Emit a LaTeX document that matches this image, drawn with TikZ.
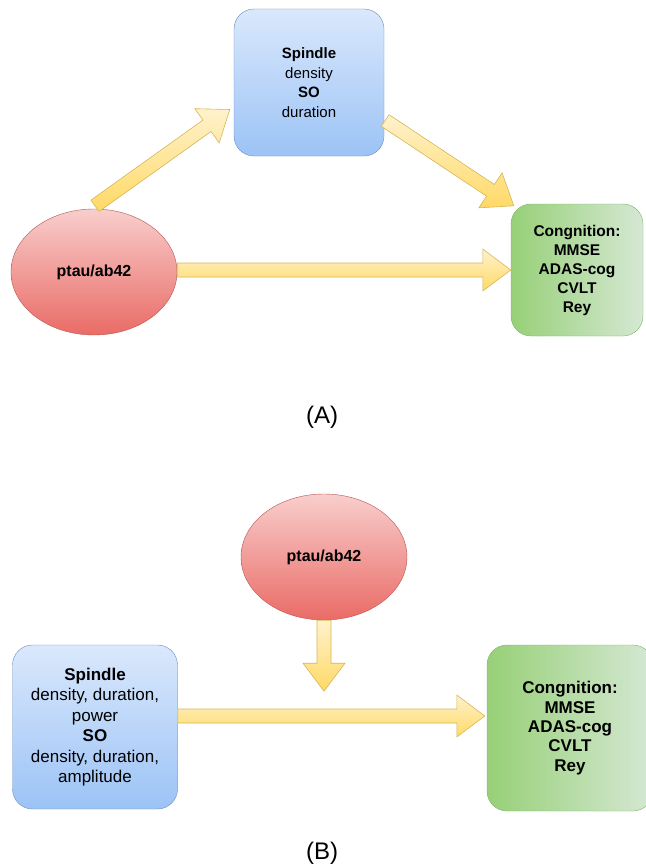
\documentclass[tikz,border=0pt]{standalone}
\usepackage{fontspec}
\setmainfont{Liberation Sans}
\usepackage{xcolor}
\usepackage{tikz}
\usetikzlibrary{calc,shapes.geometric}
\definecolor{bluetop}{HTML}{DAE8FC}
\definecolor{bluebot}{HTML}{9CC3F6}
\definecolor{bluedraw}{HTML}{6C8EBF}
\definecolor{redtop}{HTML}{F8CECC}
\definecolor{redbot}{HTML}{EA6B66}
\definecolor{reddraw}{HTML}{B85450}
\definecolor{greenleft}{HTML}{97D077}
\definecolor{greenright}{HTML}{D5E8D4}
\definecolor{greendraw}{HTML}{82B366}
\definecolor{yeltop}{HTML}{FFF2CC}
\definecolor{yelbot}{HTML}{FFD966}
\definecolor{yeldraw}{HTML}{D6B656}
% flat block arrow from #1 to #2
\newcommand{\yarrow}[2]{%
  \coordinate (hb) at ($(#2)!28pt!(#1)$);
  \path[yarrow] ($(#1)!7pt!90:(#2)$) -- ($(hb)!7pt!90:(#2)$) -- ($(hb)!21pt!90:(#2)$) -- (#2)
    -- ($(hb)!21pt!-90:(#2)$) -- ($(hb)!7pt!-90:(#2)$) -- ($(#1)!7pt!-90:(#2)$) -- cycle;}

\begin{document}
\begin{tikzpicture}[x=1pt,y=-1pt,
  spindlebox/.style={draw=bluedraw,rounded corners=20pt,top color=bluetop,bottom color=bluebot,align=center,inner sep=0pt},
  cogbox/.style={draw=greendraw,rounded corners=20pt,left color=greenleft,right color=greenright,align=center,inner sep=0pt,font=\bfseries},
  ptau/.style={ellipse,draw=reddraw,top color=redtop,bottom color=redbot,minimum width=166pt,minimum height=126pt,inner sep=0pt,font=\fontsize{16}{19}\selectfont\bfseries},
  yarrow/.style={draw=yeldraw,line width=0.6pt,top color=yeltop,bottom color=yelbot},
  caption/.style={font=\fontsize{24}{28}\selectfont}]
  \useasboundingbox (0,0) rectangle (645,867);
  % (A)
  \node[spindlebox,minimum width=150pt,minimum height=147pt,font=\fontsize{15}{19.6}\selectfont] (spA) at (309,82.5)
    {\textbf{Spindle}\\density\\\textbf{SO}\\duration};
  \node[ptau] (ptA) at (94,272) {ptau/ab42};
  \node[cogbox,minimum width=132pt,minimum height=132pt,font=\fontsize{15.5}{19}\selectfont\bfseries] (coA) at (577,270)
    {Congnition:\\MMSE\\ADAS-cog\\CVLT\\Rey};
  \yarrow{$(ptA.north)+(1,-3)$}{$(spA.west)+(-4,27)$}
  \yarrow{$(spA.east)+(1,38)$}{$(coA.north west)+(3,2)$}
  \yarrow{$(ptA.east)+(0,-2)$}{coA.west}
  \node[caption] (capA) at (322,417) {(A)};
  % (B)
  \node[ptau] (ptB) at (324,557) {ptau/ab42};
  \node[spindlebox,minimum width=165pt,minimum height=164pt,font=\fontsize{17}{20.5}\selectfont] (spB) at (95,727)
    {\textbf{Spindle}\\density, duration,\\power\\\textbf{SO}\\density, duration,\\amplitude};
  \node[cogbox,minimum width=166pt,minimum height=166pt,font=\fontsize{17}{19.3}\selectfont\bfseries] (coB) at (570,728)
    {Congnition:\\MMSE\\ADAS-cog\\CVLT\\Rey};
  \yarrow{ptB.south}{$(ptB.south)+(0,71)$}
  \yarrow{$(spB.east)+(0,-11)$}{$(coB.west)+(-2,-12)$}
  \node[caption] (capB) at (322,853) {(B)};
\end{tikzpicture}
\end{document}
